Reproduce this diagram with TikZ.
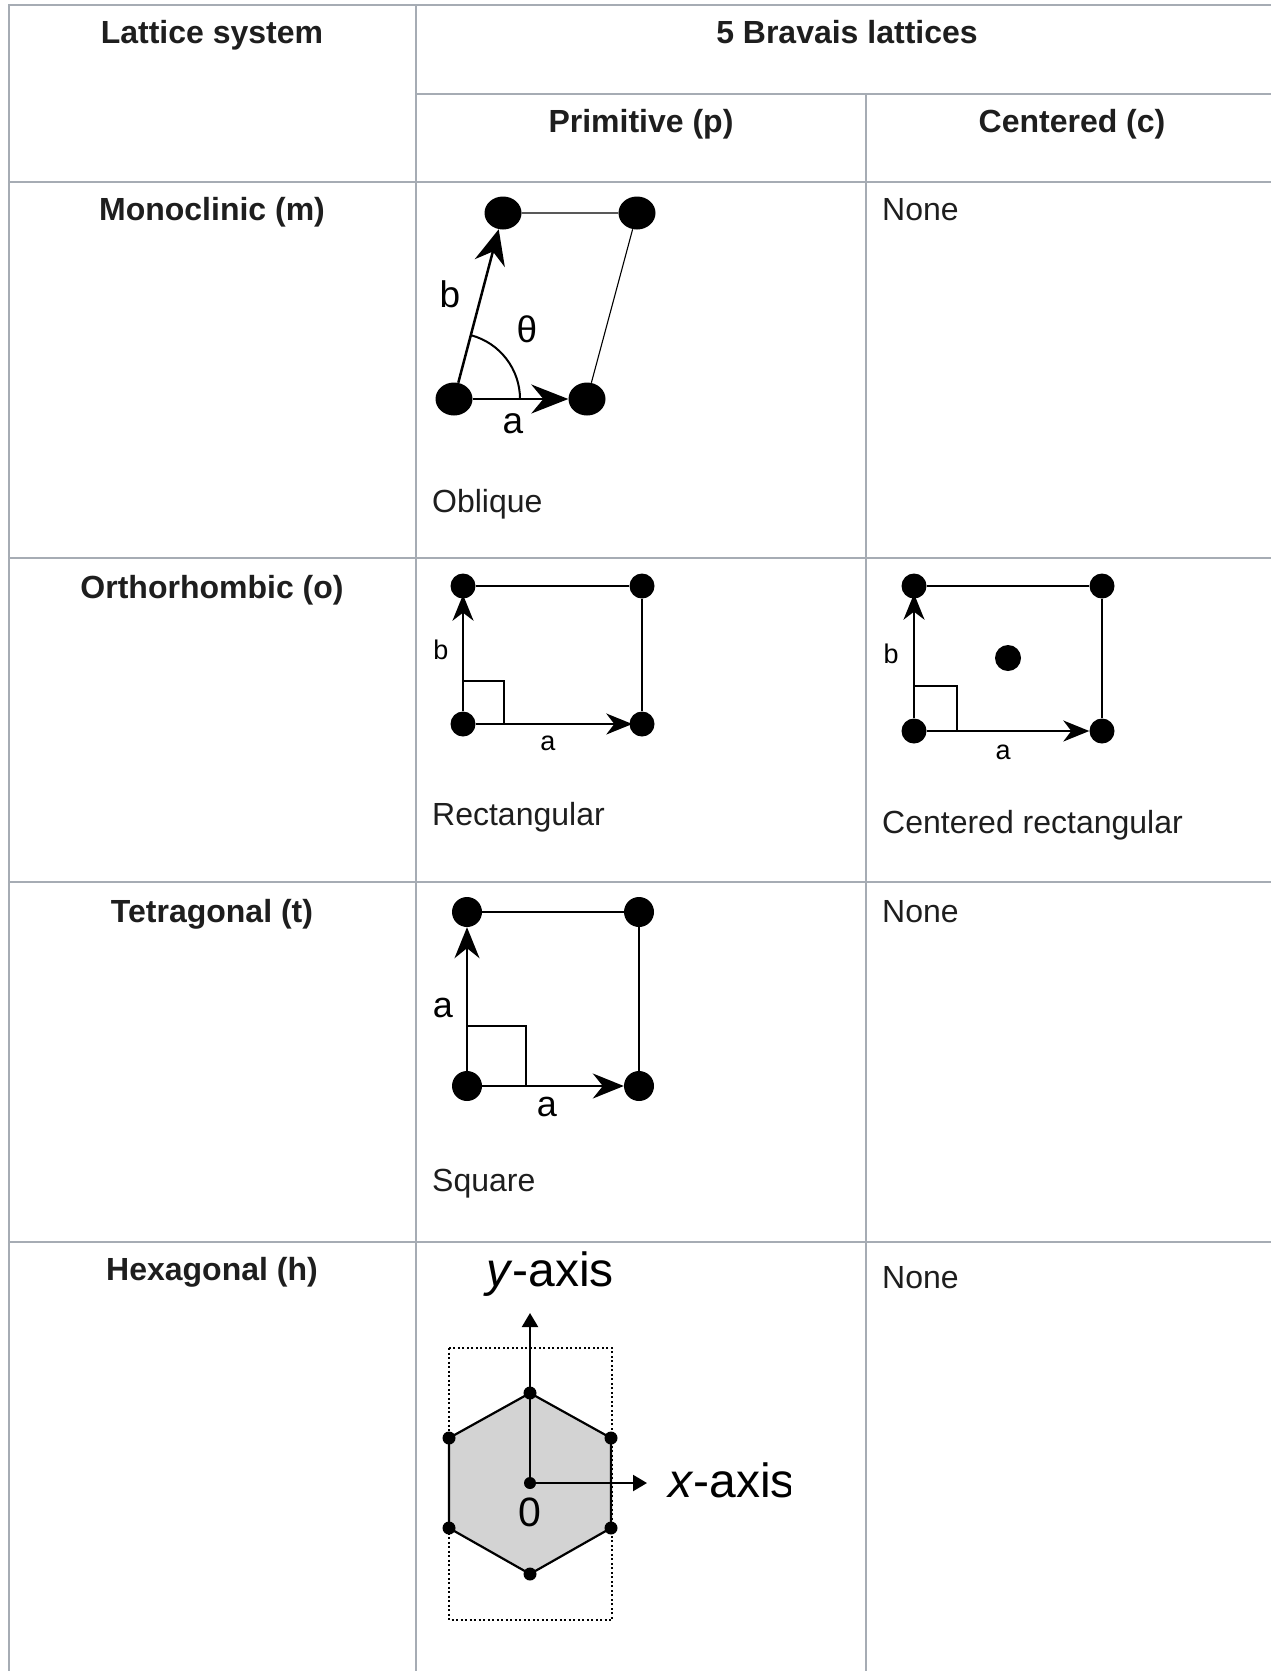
\documentclass[tikz,border=0pt]{standalone}
\usepackage{fontspec}
\setmainfont{Liberation Sans}
\usepackage{tikz}
\usetikzlibrary{shapes.geometric, arrows.meta, positioning, calc}
\definecolor{gridgray}{RGB}{166,172,180}
\definecolor{textgray}{RGB}{30,30,30}
\definecolor{hexgray}{RGB}{211,211,211}

\begin{document}
\begin{tikzpicture}[x=1pt, y=1pt,
    hdr/.style={anchor=base, inner sep=0pt, text=textgray, font=\fontsize{32}{36}\selectfont\bfseries},
    body/.style={anchor=base west, inner sep=0pt, text=textgray, font=\fontsize{32}{36}\selectfont},
    lbl/.style={inner sep=0pt, font=\fontsize{#1}{#1}\selectfont},
    site/.style={circle, fill=black, inner sep=0pt, minimum size=#1},
    monosite/.style={ellipse, fill=black, inner sep=0pt, minimum width=37pt, minimum height=33pt},
    edge/.style={line width=1.1pt},
    vec/.style={line width=2pt}]
    \useasboundingbox (0,0) rectangle (1271,-1671);

    % Table grid
    \draw[gridgray, line width=2.6pt] (9,-1671) -- (9,-5) -- (1280,-5);
    \draw[gridgray, line width=2.6pt] (416,-5) -- (416,-1671);
    \draw[gridgray, line width=2.6pt] (866,-94) -- (866,-1671);
    \draw[gridgray, line width=2.6pt] (416,-94) -- (1280,-94);
    \foreach \y in {182,558,882,1242} {
        \draw[gridgray, line width=2.6pt] (9,-\y) -- (1280,-\y);
    }

    % Headers
    \node[hdr] (h-lat) at (212,-43) {Lattice system};
    \node[hdr] (h-brav) at (847,-43) {5 Bravais lattices};
    \node[hdr] (h-prim) at (641,-132) {Primitive (p)};
    \node[hdr] (h-cent) at (1072,-132) {Centered (c)};
    \foreach \y/\name [count=\i] in {220/Monoclinic (m), 598/Orthorhombic (o), 922/Tetragonal (t), 1280/Hexagonal (h)} {
        \node[hdr] (sys-\i) at (212,-\y) {\name};
    }
    \foreach \y [count=\i] in {220,922,1288} {
        \node[body] (none-\i) at (882,-\y) {None};
    }

    % Oblique
    \node[monosite] (m-bl) at (454,-399) {};
    \node[monosite] (m-br) at (587,-399) {};
    \node[monosite] (m-tl) at (503,-213) {};
    \node[monosite] (m-tr) at (637,-213) {};
    \draw[edge] (m-tl) -- (m-tr) -- (m-br);
    \draw[line width=2.5pt, -{Stealth[length=35pt, width=31pt, inset=12pt]}] (m-bl) -- (m-tl);
    \draw[vec, -{Stealth[length=37pt, width=29pt, inset=12pt]}] (m-bl) -- (m-br);
    \draw[vec] ($(m-bl.center)+(66,0)$) arc[start angle=0, end angle=75, radius=66];
    \node[lbl=37] (m-b) at (450,-294) {b};
    \node[lbl=37] (m-th) at (527,-329) {θ};
    \node[lbl=37] (m-a) at (513,-424) {a};
    \node[body] (obl) at (432,-512) {Oblique};

    % Rectangular
    \node[site=25pt] (o-bl) at (463,-724) {};
    \node[site=25pt] (o-br) at (642,-724) {};
    \node[site=25pt] (o-tl) at (463,-586) {};
    \node[site=25pt] (o-tr) at (642,-586) {};
    \draw[edge] (o-tl) -- (o-tr) -- (o-br);
    \draw[vec] ($(o-bl.center)+(0,43)$) -| ($(o-bl.center)+(41,0)$);
    \draw[vec, shorten >=-4pt, -{Stealth[length=26pt, width=21pt, inset=8pt]}] (o-bl) -- (o-tl);
    \draw[vec, shorten >=-3pt, -{Stealth[length=26pt, width=21pt, inset=8pt]}] (o-bl) -- (o-br);
    \node[lbl=27] (o-b) at (441,-650) {b};
    \node[lbl=27] (o-a) at (548,-743) {a};
    \node[body] (rect) at (432,-825) {Rectangular};

    % Centered rectangular
    \node[site=25pt] (c-bl) at (914,-731) {};
    \node[site=25pt] (c-br) at (1102,-731) {};
    \node[site=25pt] (c-tl) at (914,-586) {};
    \node[site=25pt] (c-tr) at (1102,-586) {};
    \node[site=26pt] (c-mid) at (1008,-658) {};
    \draw[edge] (c-tl) -- (c-tr) -- (c-br);
    \draw[vec] ($(c-bl.center)+(0,45)$) -| ($(c-bl.center)+(43,0)$);
    \draw[vec, shorten >=-5pt, -{Stealth[length=26pt, width=21pt, inset=8pt]}] (c-bl) -- (c-tl);
    \draw[vec, -{Stealth[length=26pt, width=21pt, inset=8pt]}] (c-bl) -- (c-br);
    \node[lbl=27] (c-b) at (891,-654) {b};
    \node[lbl=27] (c-a) at (1003,-752) {a};
    \node[body] (crect) at (882,-833) {Centered rectangular};

    % Square
    \node[site=30pt] (t-bl) at (467,-1086) {};
    \node[site=30pt] (t-br) at (639,-1086) {};
    \node[site=30pt] (t-tl) at (467,-912) {};
    \node[site=30pt] (t-tr) at (639,-912) {};
    \draw[edge] (t-tl) -- (t-tr) -- (t-br);
    \draw[vec] ($(t-bl.center)+(0,60)$) -| ($(t-bl.center)+(59,0)$);
    \draw[vec, -{Stealth[length=31pt, width=25pt, inset=10pt]}] (t-bl) -- (t-tl);
    \draw[vec, -{Stealth[length=31pt, width=25pt, inset=10pt]}] (t-bl) -- (t-br);
    \node[lbl=36] (t-a1) at (443,-1008) {a};
    \node[lbl=36] (t-a2) at (547,-1107) {a};
    \node[body] (sq) at (432,-1191) {Square};

    % Hexagonal cell
    \draw[line width=1.4pt, dash pattern=on 2pt off 2.5pt] (449,-1348) rectangle (612,-1620);
    \coordinate (h1) at (530,-1393);
    \coordinate (h2) at (611,-1438);
    \coordinate (h3) at (611,-1528);
    \coordinate (h4) at (530,-1574);
    \coordinate (h5) at (449,-1528);
    \coordinate (h6) at (449,-1438);
    \draw[fill=hexgray, line width=2.2pt, line join=round] (h1) -- (h2) -- (h3) -- (h4) -- (h5) -- (h6) -- cycle;
    \node[site=12pt] (h-o) at (530,-1483) {};
    \coordinate (y-tip) at (530,-1313);
    \coordinate (x-tip) at (647,-1483);
    \draw[line width=2.2pt, -{Triangle[length=14pt, width=16pt]}] (h-o.center) -- (y-tip);
    \draw[line width=2.2pt, -{Triangle[length=14pt, width=16pt]}] (h-o.center) -- (x-tip);
    \foreach \i in {1,...,6} {
        \node[site=13pt] (hd-\i) at (h\i) {};
    }
    \node[lbl=41] (h-zero) at (530,-1512) {0};
    \node[lbl=48, anchor=base] (y-lab) at (550,-1286) {\textit{y}-axis};
    \begin{scope}
        \clip (650,-1440) rectangle (790,-1530);
        \node[lbl=48, anchor=base west] (x-lab) at (668,-1497) {\textit{x}-axis};
    \end{scope}
\end{tikzpicture}
\end{document}
